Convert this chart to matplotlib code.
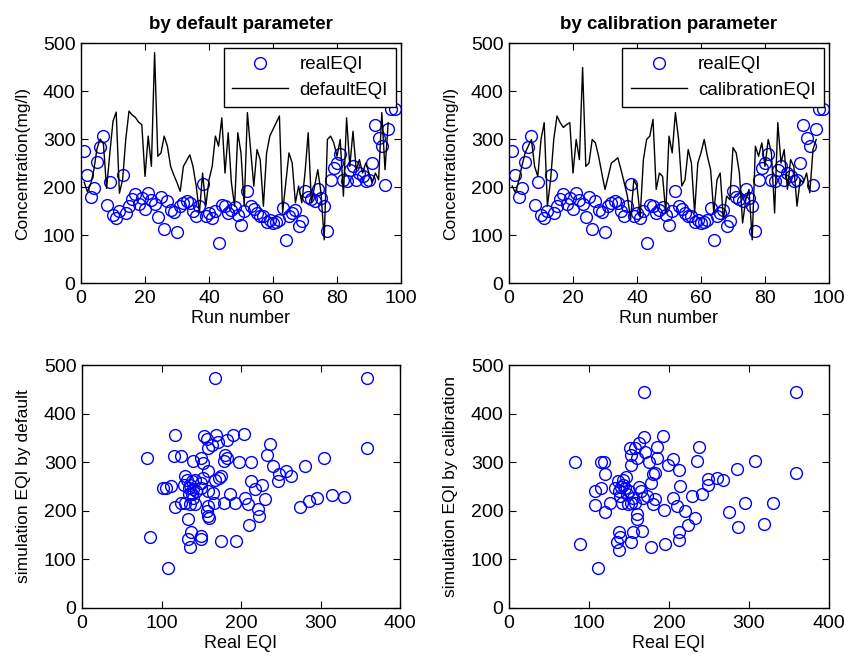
import matplotlib
matplotlib.use("Agg")
import matplotlib.pyplot as plt
import numpy as np

plt.rcParams['font.family'] = ['Liberation Sans', 'DejaVu Sans']

# ---- data ----
real_eqi = [276, 224, 180, 197, 252, 284, 306, 162, 210, 142,
            136, 150, 226, 145, 160, 175, 185, 165, 178, 155,
            188, 172, 165, 137, 180, 112, 170, 153, 148, 106,
            160, 167, 170, 167, 150, 139, 160, 207, 140, 146,
            135, 150, 83, 163, 160, 145, 153, 158, 142, 121,
            150, 191, 160, 155, 146, 140, 139, 128, 132, 125,
            128, 132, 157, 90, 140, 146, 153, 118, 130, 191,
            180, 174, 170, 195, 177, 160, 109, 215, 240, 250,
            268, 215, 212, 236, 243, 215, 229, 222, 212, 215,
            250, 330, 303, 285, 204, 320, 362, 362]

default_eqi = [210, 190, 205, 235, 280, 300, 290, 197, 270, 337,
               356, 187, 215, 300, 358, 350, 345, 335, 330, 222,
               306, 243, 480, 264, 271, 306, 285, 243, 225, 209,
               191, 243, 255, 267, 243, 202, 146, 229, 160, 215,
               243, 306, 285, 344, 229, 313, 209, 160, 313, 271,
               160, 355, 278, 202, 278, 257, 160, 271, 306, 320,
               334, 348, 146, 209, 271, 250, 167, 202, 167, 229,
               313, 167, 202, 236, 188, 90, 299, 306, 292, 264,
               299, 181, 344, 243, 316, 236, 257, 229, 250, 229,
               209, 229, 215, 355, 236, 334]

calibration_eqi = [202, 188, 212, 243, 270, 285, 299, 243, 222, 299,
                   334, 160, 215, 300, 348, 334, 324, 330, 334, 229,
                   299, 257, 449, 243, 250, 299, 292, 264, 229, 195,
                   222, 250, 255, 261, 236, 209, 181, 132, 215, 202,
                   139, 257, 299, 306, 341, 195, 229, 222, 146, 306,
                   271, 355, 299, 202, 215, 278, 250, 146, 250, 271,
                   299, 264, 236, 146, 215, 229, 132, 181, 174, 282,
                   271, 229, 125, 174, 195, 90, 285, 264, 292, 243,
                   299, 271, 146, 334, 250, 278, 195, 257, 243, 160,
                   215, 209, 229, 188, 278, 299]

scatter_default_x = [167, 358, 358, 117, 154, 157, 168, 190, 204,
                     159, 163, 171, 182,
                     82, 116, 125, 140, 150, 152, 180, 182, 179, 198, 212,
                     236, 233, 240, 248, 257, 263, 281, 305,
                     274, 285, 296, 315, 330,
                     247, 212, 217, 227, 230, 222, 223, 210,
                     205, 209, 193, 186, 179, 175, 172, 167,
                     159, 152, 150, 150, 159, 165, 166, 159, 157, 159, 160,
                     130, 132, 138, 142, 136, 134, 128, 140, 144, 138, 134, 140, 129, 142, 136,
                     102, 106, 112, 117, 125, 133, 137, 133, 136, 150, 150, 175, 194, 86, 108]
scatter_default_y = [473, 473, 329, 356, 353, 348, 356, 356, 359,
                     329, 336, 342, 346,
                     308, 312, 312, 302, 308, 298, 315, 308, 302, 300, 300,
                     338, 314, 292, 275, 281, 271, 292, 308,
                     207, 220, 227, 232, 229,
                     261, 261, 244, 254, 225, 203, 190, 171,
                     227, 214, 217, 234, 217, 271, 268, 264,
                     281, 268, 258, 247, 241, 237, 217, 210, 200, 190, 186,
                     271, 264, 261, 264, 254, 247, 254, 244, 240, 234, 234, 227, 217, 214, 214,
                     247, 247, 251, 207, 217, 183, 156, 142, 125, 149, 142, 138, 138, 146, 83]

scatter_calib_x = [169, 359, 359, 83, 89, 111, 169, 193,
                   162, 158, 151, 153, 160, 153, 185, 185, 205, 199, 213, 214, 237, 235,
                   249, 260, 268, 249, 285, 308,
                   275, 286, 295, 319, 330,
                   241, 229, 233, 224, 220, 210, 205,
                   212, 212, 195, 178,
                   194, 180, 183, 178, 180, 183,
                   168, 166, 160, 160, 158, 155,
                   153, 137, 139, 135, 137,
                   120, 115, 119, 107, 115, 107, 120, 126,
                   136, 142, 137, 145, 132, 139, 147, 141, 149, 153, 155, 143, 146, 140, 150,
                   170, 175, 163, 165, 172]
scatter_calib_y = [444, 444, 278, 300, 132, 83, 351, 353,
                   339, 329, 329, 315, 308, 295, 332, 308, 307, 294, 283, 252, 332, 303,
                   266, 268, 264, 254, 285, 302,
                   197, 167, 217, 173, 217,
                   234, 230, 186, 170, 200, 210, 227,
                   156, 139, 132, 125,
                   201, 214, 224, 258, 275, 278,
                   227, 159, 193, 183, 217, 156,
                   136, 156, 146, 136, 119,
                   276, 300, 301, 241, 246, 212, 197, 217,
                   261, 254, 240, 247, 247, 230, 234, 217, 214, 217, 227, 264, 270, 250, 240,
                   320, 300, 250, 240, 230]

titles = ['by default parameter', 'by calibration parameter']
line_labels = ['defaultEQI', 'calibrationEQI']
scatter_ylabels = ['simulation EQI by default', 'simulation EQI by calibration']

W, H = 845, 656
fig = plt.figure(figsize=(W / 100, H / 100), dpi=100)

def frac(l, t, r, b):
    return [l / W, (H - b) / H, (r - l) / W, (b - t) / H]

ax_tl = fig.add_axes(frac(81, 43, 401, 283))
ax_tr = fig.add_axes(frac(509, 43, 829, 283))
ax_bl = fig.add_axes(frac(82, 365, 400, 608))
ax_br = fig.add_axes(frac(509, 365, 829, 608))

blue = (0, 0, 1)
tick_fs = 14
xlabel_fs = 13
ylabel_fs = 12.5

def style(ax):
    ax.tick_params(direction='in', top=True, right=True, labelsize=tick_fs,
                   length=5, width=0.8)
    ax.tick_params(axis='x', pad=5)
    ax.tick_params(axis='y', pad=4)
    for s in ax.spines.values():
        s.set_linewidth(1.0)

run_real = np.arange(1, len(real_eqi) + 1)
for ax, sim, title, lab in [(ax_tl, default_eqi, titles[0], line_labels[0]),
                            (ax_tr, calibration_eqi, titles[1], line_labels[1])]:
    runs_sim = np.arange(1, len(sim) + 1)
    ax.plot(run_real, real_eqi, 'o', mfc='none', mec=blue, ms=8.5, mew=1.0, label='realEQI')
    ax.plot(runs_sim, sim, '-', color='black', lw=1.0, label=lab)
    ax.set_xlim(0, 100)
    ax.set_ylim(0, 500)
    ax.set_xticks([0, 20, 40, 60, 80, 100])
    ax.set_yticks([0, 100, 200, 300, 400, 500])
    ax.set_xlabel('Run number', fontsize=xlabel_fs, labelpad=2)
    ax.set_ylabel('Concentration(mg/l)', fontsize=ylabel_fs, labelpad=9)
    ax.set_title(title, fontsize=13.5, fontweight='bold', pad=10)
    leg = ax.legend(loc='upper right', fontsize=13.5, frameon=True, fancybox=False,
                    edgecolor='black', framealpha=1, borderaxespad=0.25,
                    handlelength=3.0, borderpad=0.45, labelspacing=0.45,
                    handletextpad=0.6)
    leg.get_frame().set_linewidth(1.0)
    style(ax)

for ax, xs, ys, ylab in [(ax_bl, scatter_default_x, scatter_default_y, scatter_ylabels[0]),
                         (ax_br, scatter_calib_x, scatter_calib_y, scatter_ylabels[1])]:
    ax.plot(xs, ys, 'o', mfc='none', mec=blue, ms=8.5, mew=1.0)
    ax.set_xlim(0, 400)
    ax.set_ylim(0, 500)
    ax.set_xticks([0, 100, 200, 300, 400])
    ax.set_yticks([0, 100, 200, 300, 400, 500])
    ax.set_xlabel('Real EQI', fontsize=xlabel_fs, labelpad=2)
    ax.set_ylabel(ylab, fontsize=ylabel_fs, labelpad=9)
    style(ax)

fig.savefig('out.png', dpi=100)
